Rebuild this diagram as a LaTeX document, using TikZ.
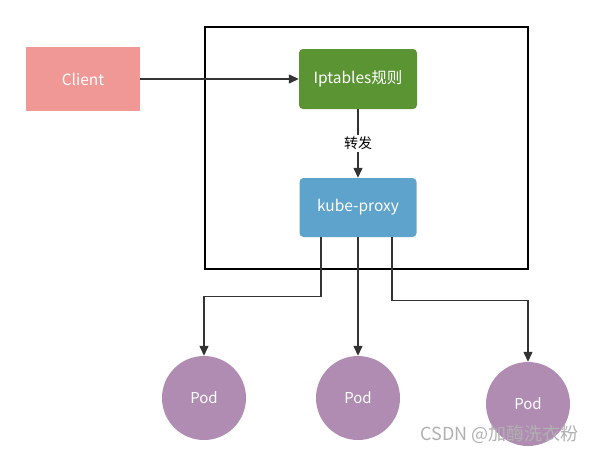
\documentclass[tikz,border=0pt]{standalone}
\usepackage{fontspec}
\setmainfont{Noto Sans CJK SC}
\usetikzlibrary{arrows.meta}
\definecolor{clientc}{HTML}{F09896}
\definecolor{greenc}{HTML}{5A9433}
\definecolor{bluec}{HTML}{5DA3CB}
\definecolor{podc}{HTML}{B08CB3}
\definecolor{linec}{HTML}{333333}
\definecolor{wmc}{HTML}{B0B0B0}
\tikzset{
  box/.style={rectangle, draw=none, text=white, font=\fontsize{15.5}{17}\selectfont, inner sep=0pt},
  rbox/.style={box, rounded corners=4pt},
  pod/.style={circle, fill=podc, draw=none, text=white, minimum size=84pt, inner sep=0pt, font=\fontsize{15}{17}\selectfont},
  arr/.style={draw=linec, line width=1.3pt, -{Triangle[length=10pt,width=9pt]}},
  frame/.style={draw=black, line width=1.5pt}
}
\begin{document}
\begin{tikzpicture}[x=1pt,y=-1pt]
\useasboundingbox (0,0) rectangle (594,453);
\draw[frame] (205,27) rectangle (528,269);
\node[box, fill=clientc, minimum width=114pt, minimum height=64pt] (client) at (83,79) {Client};
\node[rbox, fill=greenc, minimum width=118pt, minimum height=60pt] (ipt) at (358,79) {Iptables规则};
\node[rbox, fill=bluec, minimum width=117pt, minimum height=59pt] (kp) at (358,207.5) {kube-proxy};
\node[pod] (pod1) at (204,398) {Pod};
\node[pod] (pod2) at (358,398) {Pod};
\node[pod] (pod3) at (528,404) {Pod};
\draw[arr] (client.east) -- (ipt.west);
\draw[arr] (ipt.south) -- node[fill=white, text=black, font=\fontsize{14}{16}\selectfont, inner sep=2pt] {转发} (kp.north);
\draw[arr] ([xshift=-37pt]kp.south) -- ++(0,59) -| (pod1);
\draw[arr] (kp.south) -- (pod2);
\draw[arr] ([xshift=34pt]kp.south) -- ++(0,63) -| (pod3);
\node[text=wmc, font=\fontsize{18}{20}\selectfont, anchor=east, inner sep=0pt] (wm) at (579,434) {CSDN @加酶洗衣粉};
\end{tikzpicture}
\end{document}
